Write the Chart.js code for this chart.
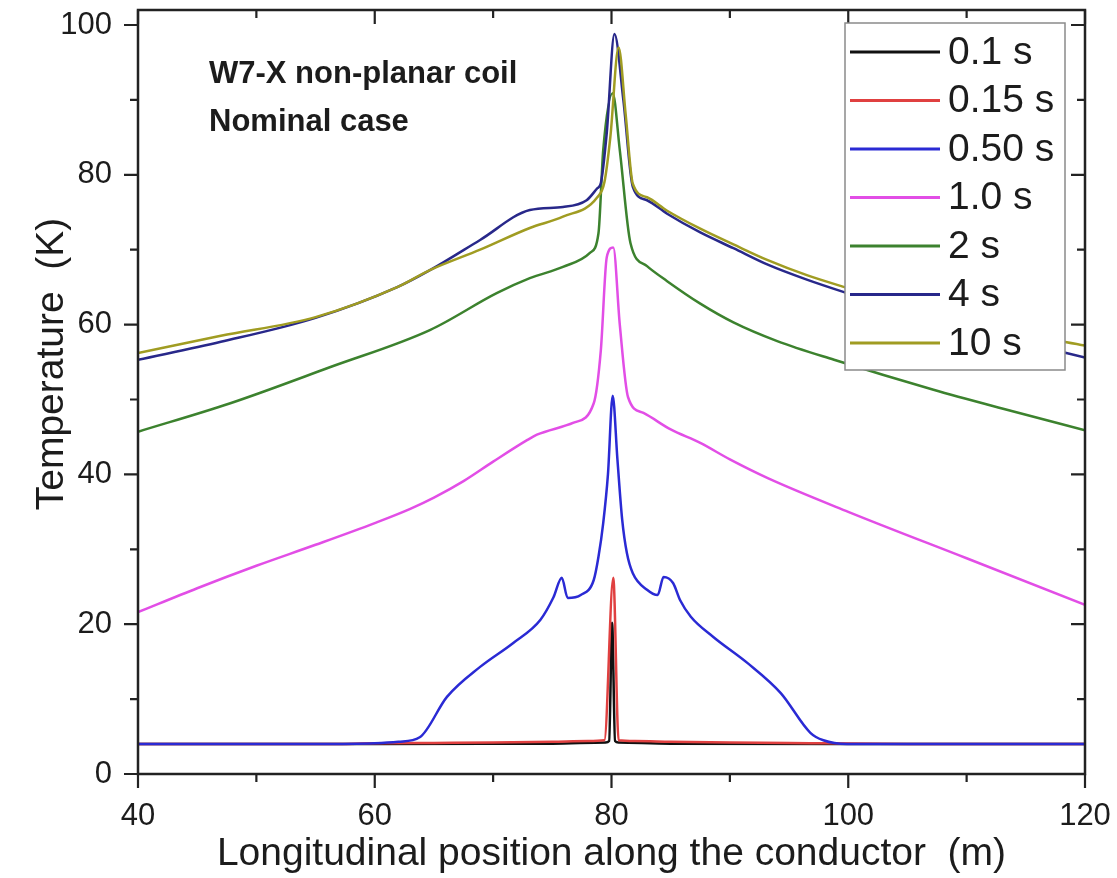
<!DOCTYPE html>
<html>
<head>
<meta charset="utf-8">
<script src="https://cdn.jsdelivr.net/npm/chart.js@4.4.1/dist/chart.umd.min.js"></script>
<style>
  html, body { margin: 0; padding: 0; background: #fff; }
  #wrap { width: 1117px; height: 878px; }
</style>
</head>
<body>
<div id="wrap"><canvas id="tempChart" width="1117" height="878"></canvas></div>
<script>
// series labels (legend order)
const seriesLabels = ['0.1 s', '0.15 s', '0.50 s', '1.0 s', '2 s', '4 s', '10 s'];

// tick values
const xMajorTicks = [40, 60, 80, 100, 120];
const xMinorTicks = [50, 70, 90, 110];
const yMajorTicks = [0, 20, 40, 60, 80, 100];
const yMinorTicks = [10, 30, 50, 70, 90];

// 0.1 s
const pos01 = [40, 60, 75, 79.5, 79.8, 80.05, 80.3, 80.6, 85, 100, 120];
const temp01 = [4, 4, 4.05, 4.2, 4.4, 20.2, 4.4, 4.2, 4.05, 4, 4];

// 0.15 s
const pos015 = [40, 56, 60, 65, 70, 75, 78, 79.4, 80.15, 80.6, 82, 85, 90, 95, 98, 105, 120];
const temp015 = [4, 4, 4.1, 4.15, 4.2, 4.3, 4.4, 4.5, 26.2, 4.5, 4.4, 4.3, 4.2, 4.15, 4.1, 4, 4];

// 0.50 s
const pos05 = [40, 55, 60, 62, 63.8, 66.1, 68.9, 71.7, 74.0, 75.1, 75.8, 76.3, 77.4, 78.5, 78.9, 79.3, 79.7,
               80.1, 80.5, 80.9, 81.3, 81.8, 83.0, 83.9, 84.4, 85.2, 85.8, 86.7, 88.6, 91.5, 94.3, 96.8, 97.9, 99.9, 110, 120];
const temp05 = [4, 4, 4.1, 4.3, 4.9, 10.3, 14.3, 17.5, 20.6, 23.6, 26.2, 23.5, 23.9, 25.9, 29.0, 33.5, 40.0,
                50.5, 42.0, 34.0, 29.5, 26.8, 24.6, 23.9, 26.3, 25.5, 23.2, 21.0, 18.3, 14.8, 10.8, 5.5, 4.5, 4.0, 4.0, 4.0];

// 1.0 s
const pos1 = [40, 45, 50, 55, 60, 63, 65, 67.5, 70, 72.9, 73.7, 76.8, 78.5, 79.1, 79.6, 80.15, 80.7, 81.4, 82.7,
              85, 87.5, 90, 93.2, 100, 110, 120];
const temp1 = [21.6, 24.8, 27.8, 30.6, 33.5, 35.4, 36.9, 39.1, 41.7, 44.6, 45.3, 46.9, 49.5, 56.6, 69, 70.3, 60, 50.3, 48.2,
               46.0, 44.2, 42.0, 39.5, 35.0, 28.8, 22.6];

// 2 s
const pos2 = [40, 47.8, 56.2, 64.7, 70.3, 73.1, 75.9, 78.2, 78.9, 79.3, 80.1, 80.7, 81.6, 83, 84.7, 87.5, 90.3, 94,
              98.8, 107.2, 113, 120];
const temp2 = [45.7, 49.5, 54.3, 59.3, 64.2, 66.2, 67.7, 69.6, 72.2, 83.3, 90.9, 83.3, 70.9, 67.8, 65.8, 62.8, 60.3, 57.8,
               55.3, 51.3, 48.8, 45.9];

// 4 s
const pos4 = [40, 47, 55, 61.9, 64.7, 68.9, 73.1, 75.9, 77.9, 78.8, 79.1, 79.6, 80.25, 81.0, 81.8, 83, 84.7, 87.5,
              90.3, 93.2, 96.5, 99.9, 105, 110, 115, 120];
const temp4 = [55.3, 57.7, 60.9, 65.0, 67.3, 71.3, 75.3, 75.7, 76.6, 78.2, 78.9, 85.6, 98.8, 90, 78.4, 76.6, 74.8, 72.3,
               70.2, 68.0, 66.0, 64.2, 61.7, 59.5, 57.5, 55.6];

// 10 s
const pos10 = [40, 47, 55, 61.9, 64.7, 68.9, 73.1, 75.9, 78.8, 79.4, 79.9, 80.6, 81.2, 81.8, 83, 84.7, 87.5, 90.3,
               93.2, 96.5, 99.9, 105, 110, 115, 120];
const temp10 = [56.2, 58.5, 61.0, 65.0, 67.3, 70.0, 72.9, 74.4, 77.0, 79, 85, 97, 88, 78.8, 77.0, 75.2, 72.8, 70.7,
                68.6, 66.6, 64.9, 62.5, 60.5, 58.7, 57.2];

const seriesPos = [pos01, pos015, pos05, pos1, pos2, pos4, pos10];
const seriesTemp = [temp01, temp015, temp05, temp1, temp2, temp4, temp10];
const lineColors = ['#111111', '#e04040', '#2a2ad4', '#e24ee6', '#3c822e', '#28288a', '#a09c22'];

const FONT = '"Liberation Sans", Arial, sans-serif';
const TEXT = '#1c1c1c';

const datasets = seriesLabels.map((label, i) => ({
  label: label,
  data: seriesPos[i].map((x, j) => ({ x: x, y: seriesTemp[i][j] })),
  borderColor: lineColors[i],
  borderWidth: 2.5,
  pointRadius: 0,
  fill: false,
  cubicInterpolationMode: 'monotone',
  order: seriesLabels.length - 1 - i // later series drawn on top
}));

// box frame, inward/outward ticks, notes, y title and legend
const decorPlugin = {
  id: 'decor',
  afterDatasetsDraw(chart) {
    const { ctx, chartArea: a, scales: { x, y } } = chart;
    ctx.save();

    ctx.strokeStyle = '#222';
    ctx.lineWidth = 2.5;
    ctx.strokeRect(a.left, a.top, a.right - a.left, a.bottom - a.top);

    ctx.lineWidth = 2.2;
    ctx.beginPath();
    const xTick = (v, len) => {
      const px = x.getPixelForValue(v);
      ctx.moveTo(px, a.bottom); ctx.lineTo(px, a.bottom + len);
      ctx.moveTo(px, a.top); ctx.lineTo(px, a.top + len);
    };
    const yTick = (v, len) => {
      const py = y.getPixelForValue(v);
      ctx.moveTo(a.left, py); ctx.lineTo(a.left - len, py);
      ctx.moveTo(a.right, py); ctx.lineTo(a.right - len, py);
    };
    xMajorTicks.forEach(v => xTick(v, 14));
    xMinorTicks.forEach(v => xTick(v, 8));
    yMajorTicks.forEach(v => yTick(v, 14));
    yMinorTicks.forEach(v => yTick(v, 8));
    ctx.stroke();

    // notes
    ctx.fillStyle = TEXT;
    ctx.font = 'bold 31px ' + FONT;
    ctx.textAlign = 'left';
    ctx.textBaseline = 'alphabetic';
    ctx.fillText('W7-X non-planar coil', 209, 83);
    ctx.fillText('Nominal case', 209, 131);

    // y axis title
    ctx.save();
    ctx.translate(52, 364);
    ctx.rotate(-Math.PI / 2);
    ctx.font = '39px ' + FONT;
    ctx.textAlign = 'center';
    ctx.textBaseline = 'middle';
    ctx.fillText('Temperature  (K)', 0, 0);
    ctx.restore();

    // legend
    const bx = 845, by = 23, bw = 220, bh = 347;
    ctx.fillStyle = '#fff';
    ctx.fillRect(bx, by, bw, bh);
    ctx.strokeStyle = '#8a8a8a';
    ctx.lineWidth = 1.5;
    ctx.strokeRect(bx, by, bw, bh);
    ctx.font = '39px ' + FONT;
    ctx.textAlign = 'left';
    ctx.textBaseline = 'middle';
    seriesLabels.forEach((label, i) => {
      const cy = 52 + i * 48.5;
      ctx.strokeStyle = lineColors[i];
      ctx.lineWidth = 3;
      ctx.beginPath();
      ctx.moveTo(850, cy);
      ctx.lineTo(940, cy);
      ctx.stroke();
      ctx.fillStyle = TEXT;
      ctx.fillText(label, 948, cy + 1);
    });
    ctx.restore();
  }
};

new Chart(document.getElementById('tempChart'), {
  type: 'line',
  data: { datasets: datasets },
  options: {
    responsive: false,
    animation: false,
    devicePixelRatio: 1,
    layout: { padding: { top: 10, right: 32, left: 0, bottom: 0 } },
    plugins: {
      legend: { display: false },
      tooltip: { enabled: false }
    },
    scales: {
      x: {
        type: 'linear',
        min: 40,
        max: 120,
        afterBuildTicks: s => { s.ticks = xMajorTicks.map(v => ({ value: v })); },
        afterFit: s => { s.height = 104; s.paddingLeft = 0; s.paddingRight = 0; },
        grid: { display: false, drawTicks: false },
        border: { display: false },
        ticks: { color: TEXT, font: { family: FONT, size: 31 }, padding: 24, maxRotation: 0 },
        title: {
          display: true,
          text: 'Longitudinal position along the conductor  (m)',
          color: TEXT,
          font: { family: FONT, size: 39 },
          padding: { top: 0, bottom: 0 }
        }
      },
      y: {
        min: 0,
        max: 102,
        afterBuildTicks: s => { s.ticks = yMajorTicks.map(v => ({ value: v })); },
        afterFit: s => { s.width = 138; s.paddingTop = 0; s.paddingBottom = 0; },
        grid: { display: false, drawTicks: false },
        border: { display: false },
        ticks: { color: TEXT, font: { family: FONT, size: 31 }, padding: 26 }
      }
    }
  },
  plugins: [decorPlugin]
});
</script>
</body>
</html>
